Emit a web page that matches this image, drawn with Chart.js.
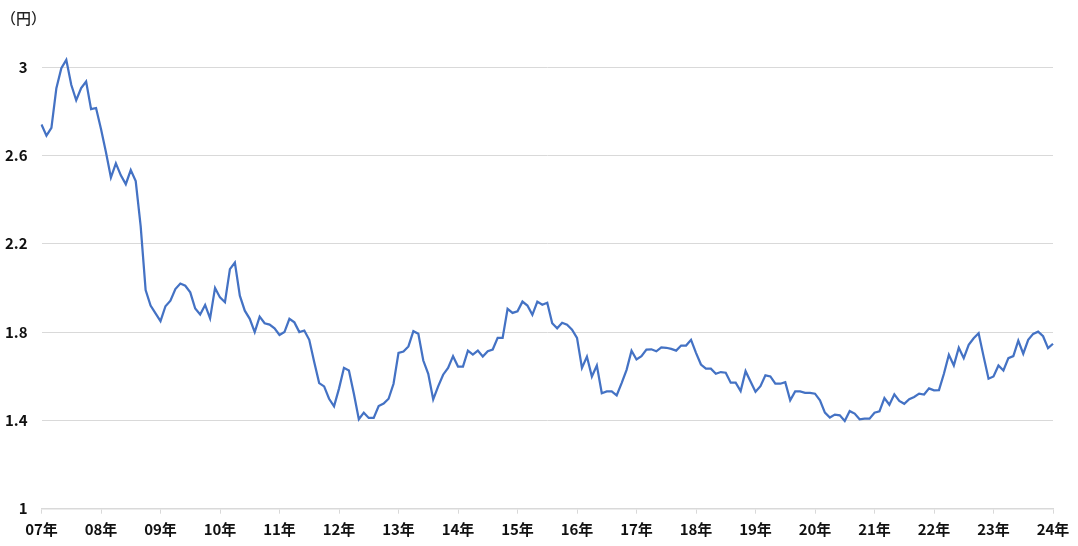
<!DOCTYPE html>
<html>
<head>
<meta charset="utf-8">
<script src="https://cdn.jsdelivr.net/npm/chart.js@4.4.1/dist/chart.umd.min.js"></script>
<style>
  html, body { margin: 0; padding: 0; background: #fff; }
  #wrap { width: 1078px; height: 546px; position: relative; }
</style>
</head>
<body>
<div id="wrap"><canvas id="priceChart"></canvas></div>
<script>
// year labels on the x axis (one per January)
const years = ['07','08','09','10','11','12','13','14','15','16','17','18','19','20','21','22','23','24'];
// y axis ticks
const yTicks = [1, 1.4, 1.8, 2.2, 2.6, 3];
const unitLabel = '（円）';

// monthly values, Jan 2007 .. Jan 2024
const values = [
  2.74, 2.69, 2.725, 2.905, 2.995, 3.033, 2.92, 2.85, 2.905, 2.935, 2.81, 2.815,
  2.72, 2.615, 2.50, 2.564, 2.51, 2.47, 2.534, 2.484, 2.28, 1.99, 1.92, 1.885,
  1.85, 1.917, 1.942, 1.995, 2.02, 2.01, 1.98, 1.907, 1.88, 1.923, 1.862, 2.0,
  1.957, 1.935, 2.085, 2.115, 1.965, 1.897, 1.86, 1.80, 1.87, 1.84, 1.834, 1.817,
  1.787, 1.80, 1.86, 1.844, 1.80, 1.807, 1.765, 1.664, 1.569, 1.554, 1.498, 1.464,
  1.544, 1.638, 1.626, 1.521, 1.405, 1.435, 1.411, 1.411, 1.465, 1.476, 1.498, 1.566,
  1.706, 1.712, 1.735, 1.804, 1.792, 1.671, 1.611, 1.495, 1.554, 1.607, 1.638, 1.691,
  1.644, 1.644, 1.716, 1.698, 1.716, 1.689, 1.713, 1.721, 1.774, 1.774, 1.905, 1.887,
  1.894, 1.938, 1.92, 1.878, 1.938, 1.924, 1.933, 1.84, 1.817, 1.842, 1.833, 1.811,
  1.774, 1.638, 1.689, 1.599, 1.649, 1.523, 1.531, 1.531, 1.513, 1.569, 1.629, 1.716,
  1.676, 1.691, 1.721, 1.722, 1.713, 1.731, 1.729, 1.724, 1.716, 1.739, 1.739, 1.765,
  1.706, 1.653, 1.634, 1.634, 1.611, 1.619, 1.616, 1.571, 1.571, 1.533, 1.623, 1.576,
  1.53, 1.555, 1.604, 1.599, 1.566, 1.566, 1.573, 1.491, 1.531, 1.531, 1.525, 1.525,
  1.521, 1.491, 1.435, 1.413, 1.426, 1.423, 1.397, 1.442, 1.431, 1.405, 1.408, 1.408,
  1.435, 1.441, 1.501, 1.471, 1.518, 1.488, 1.475, 1.496, 1.506, 1.521, 1.517, 1.545,
  1.536, 1.537, 1.611, 1.697, 1.649, 1.729, 1.682, 1.742, 1.772, 1.795, 1.69, 1.589,
  1.599, 1.649, 1.626, 1.682, 1.691, 1.761, 1.702, 1.765, 1.792, 1.802, 1.781, 1.727,
  1.747
];

// month categories built from the year list
const months = [];
years.forEach(y => {
  for (let m = 1; m <= 12; m++) {
    if (months.length < values.length) months.push(y + '-' + m);
  }
});

const font = { family: '"Noto Sans CJK JP", "Noto Sans", sans-serif', size: 15, weight: 'bold' };

// "(円)" unit label at the top left
const unitPlugin = {
  id: 'unit',
  afterDraw(chart) {
    const c = chart.ctx;
    c.save();
    c.font = '500 15px "Noto Sans CJK JP", sans-serif';
    c.fillStyle = '#222';
    c.textBaseline = 'middle';
    c.fillText(unitLabel, 1, 18);
    c.restore();
  }
};

new Chart(document.getElementById('priceChart'), {
  type: 'line',
  data: {
    labels: months,
    datasets: [{
      data: values,
      borderColor: '#4472C4',
      borderWidth: 2.25,
      pointRadius: 0,
      tension: 0,
      fill: false
    }]
  },
  options: {
    responsive: true,
    maintainAspectRatio: false,
    animation: false,
    layout: { padding: { top: 21, right: 25, left: 0, bottom: 0 } },
    plugins: { legend: { display: false }, tooltip: { enabled: false } },
    scales: {
      x: {
        grid: { drawOnChartArea: false, drawTicks: true, tickLength: 5, color: '#d9d9d9' },
        border: { color: '#d9d9d9', width: 1.5 },
        ticks: {
          autoSkip: false, maxRotation: 0, minRotation: 0, padding: 7,
          color: '#111', font: font,
          callback: (v, i) => i % 12 === 0 ? months[i].split('-')[0] + '年' : null
        },
        afterFit: s => { s.height = 37.3; }
      },
      y: {
        min: 1, max: 3.2,
        afterBuildTicks: s => { s.ticks = yTicks.map(v => ({ value: v })); },
        grid: { color: '#d9d9d9', drawTicks: false },
        border: { display: false },
        ticks: {
          padding: 14, color: '#111', font: font,
          callback: v => String(+v.toFixed(1))
        },
        afterFit: s => { s.width = 41.5; }
      }
    }
  },
  plugins: [unitPlugin]
});
</script>
</body>
</html>
